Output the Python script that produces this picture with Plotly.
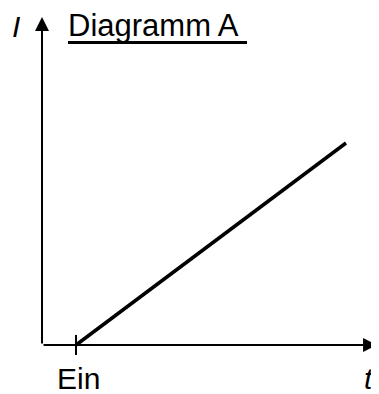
import plotly.graph_objects as go

# Data (schematic): current I rises linearly after switching on ("Ein")
t_values = [0, 8]
I_values = [0, 6]

title_text = "Diagramm A"
x_label = "t"
y_label = "I"
tick_label = "Ein"

W, H = 379, 394
# axis extents (data units)
x_min, x_max = -2.0148, 9.2148
y_min, y_max = -1.693, 10.010
axis_origin_t = -1.007
axis_tip_t = 8.92
axis_tip_I = 9.742

FONT = "Liberation Sans, Arial, sans-serif"


def px(fx, fy):
    """figure pixel -> paper fraction"""
    return fx / W, 1 - fy / H


fig = go.Figure()
fig.add_trace(go.Scatter(x=t_values, y=I_values, mode="lines",
                         line=dict(color="black", width=3.5),
                         hoverinfo="skip", showlegend=False))

# axes with arrowheads
fig.add_annotation(x=axis_tip_t, y=0, ax=axis_origin_t, ay=0,
                   xref="x", yref="y", axref="x", ayref="y",
                   showarrow=True, arrowhead=2, arrowsize=1.4, arrowwidth=2,
                   arrowcolor="black", text="")
fig.add_annotation(x=axis_origin_t, y=axis_tip_I, ax=axis_origin_t, ay=0,
                   xref="x", yref="y", axref="x", ayref="y",
                   showarrow=True, arrowhead=2, arrowsize=1.4, arrowwidth=2,
                   arrowcolor="black", text="")

# tick at switch-on
fig.add_shape(type="line", x0=t_values[0], x1=t_values[0], y0=-0.297, y1=0.297,
              xref="x", yref="y", line=dict(color="black", width=2))

# labels
fig.add_annotation(x=t_values[0], y=-1.0, xref="x", yref="y", text=tick_label,
                   showarrow=False, xanchor="center", yanchor="middle", xshift=2.5,
                   borderpad=0, borderwidth=0,
                   font=dict(family=FONT, size=30, color="black"))
tx, ty = px(361, 370)
fig.add_annotation(x=tx, y=ty, xref="paper", yref="paper", text="<i>" + x_label + "</i>",
                   showarrow=False, xanchor="center", yanchor="middle",
                   borderpad=0, borderwidth=0,
                   font=dict(family=FONT, size=30, color="black"))
ix, iy = px(8, 19)
fig.add_annotation(x=ix, y=iy, xref="paper", yref="paper",
                   text="<i>" + y_label + "</i>",
                   showarrow=False, xanchor="center", yanchor="middle",
                   borderpad=0, borderwidth=0,
                   font=dict(family=FONT, size=30, color="black"))
hx, hy = px(59.5, 17.8)
fig.add_annotation(x=hx, y=hy, xref="paper", yref="paper",
                   text=title_text,
                   showarrow=False, xanchor="left", yanchor="middle",
                   borderpad=0, borderwidth=0,
                   font=dict(family=FONT, size=31, color="black"))
ux0, uy = px(60, 34.5)
ux1, _ = px(239, 34.5)
fig.add_shape(type="line", x0=ux0, x1=ux1, y0=uy, y1=uy,
              xref="paper", yref="paper", line=dict(color="black", width=3))

fig.update_layout(
    width=W, height=H,
    margin=dict(l=0, r=0, t=0, b=0),
    paper_bgcolor="white", plot_bgcolor="white",
    xaxis=dict(range=[x_min, x_max], visible=False, fixedrange=True),
    yaxis=dict(range=[y_min, y_max], visible=False, fixedrange=True),
)

fig.write_html("out.html")
